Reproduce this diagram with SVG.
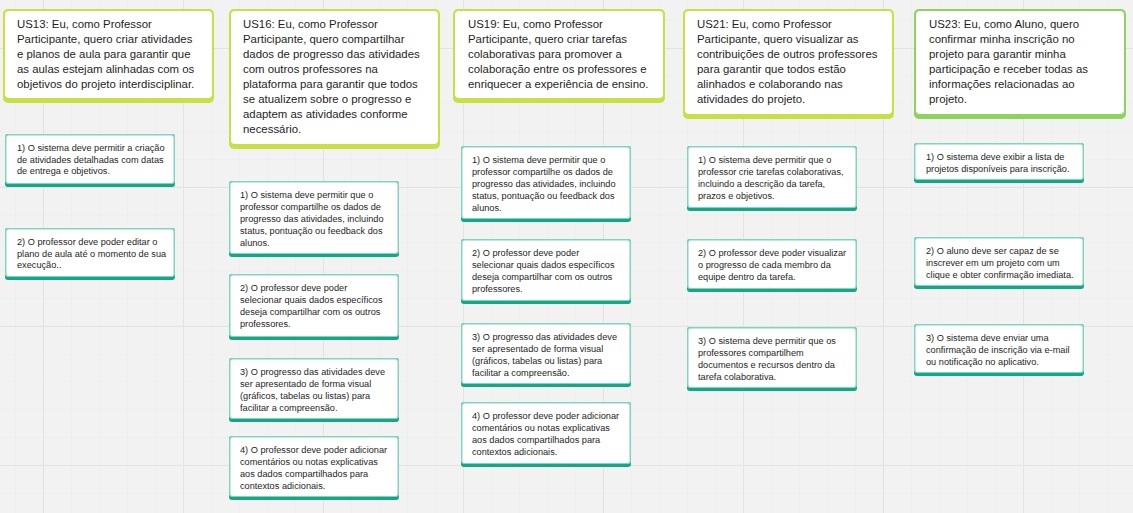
<svg xmlns="http://www.w3.org/2000/svg" width="1133" height="513" viewBox="0 0 1133 513">
<defs>
<pattern id="minor" x="15" y="20" width="28" height="27.8" patternUnits="userSpaceOnUse">
<path d="M0 0H28M0 0V27.8" fill="none" stroke="#ebebeb" stroke-width="1"/>
</pattern>
<pattern id="major" x="43" y="48" width="140" height="139" patternUnits="userSpaceOnUse">
<path d="M0 0.5H140M0.5 0V139" fill="none" stroke="#e3e3e3" stroke-width="1.2"/>
</pattern>
</defs>
<style>
.us-b{fill:#c9df45}
.us23-b{fill:#8fd35f}
.card{fill:#ffffff}
.d-b{fill:#12a785}
.d-t{fill:#7fd5c1}
.ust{font-family:"Liberation Sans",Arial,sans-serif;font-size:11.4px;fill:#1e1e1e}
.dt{font-family:"Liberation Sans",Arial,sans-serif;font-size:9.2px;fill:#1e1e1e}
</style>
<rect width="1133" height="513" fill="#f2f2f2"/>
<rect width="1133" height="513" fill="url(#minor)"/>
<rect width="1133" height="513" fill="url(#major)"/>

<g id="connectors"/>

<!-- User story cards -->
<g id="US13">
<rect class="us-b" x="3" y="9" width="211" height="94" rx="5"/>
<rect class="card" x="5" y="11" width="207" height="87" rx="4"/>
<text class="ust" x="17" y="28">
<tspan x="17" y="28">US13: Eu, como Professor</tspan>
<tspan x="17" y="43">Participante, quero criar atividades</tspan>
<tspan x="17" y="58">e planos de aula para garantir que</tspan>
<tspan x="17" y="73">as aulas estejam alinhadas com os</tspan>
<tspan x="17" y="88">objetivos do projeto interdisciplinar.</tspan>
</text>
</g>

<g id="US16">
<rect class="us-b" x="229" y="9" width="211" height="140" rx="5"/>
<rect class="card" x="231" y="11" width="207" height="133" rx="4"/>
<text class="ust">
<tspan x="243" y="28">US16: Eu, como Professor</tspan>
<tspan x="243" y="43">Participante, quero compartilhar</tspan>
<tspan x="243" y="58">dados de progresso das atividades</tspan>
<tspan x="243" y="73">com outros professores na</tspan>
<tspan x="243" y="88">plataforma para garantir que todos</tspan>
<tspan x="243" y="103">se atualizem sobre o progresso e</tspan>
<tspan x="243" y="118">adaptem as atividades conforme</tspan>
<tspan x="243" y="133">necessário.</tspan>
</text>
</g>

<g id="US19">
<rect class="us-b" x="453" y="9" width="212" height="94" rx="5"/>
<rect class="card" x="455" y="11" width="208" height="87" rx="4"/>
<text class="ust">
<tspan x="468" y="28">US19: Eu, como Professor</tspan>
<tspan x="468" y="43">Participante, quero criar tarefas</tspan>
<tspan x="468" y="58">colaborativas para promover a</tspan>
<tspan x="468" y="73">colaboração entre os professores e</tspan>
<tspan x="468" y="88">enriquecer a experiência de ensino.</tspan>
</text>
</g>

<g id="US21">
<rect class="us-b" x="683" y="9" width="211" height="110" rx="5"/>
<rect class="card" x="685" y="11" width="207" height="103" rx="4"/>
<text class="ust">
<tspan x="697" y="28">US21: Eu, como Professor</tspan>
<tspan x="697" y="43">Participante, quero visualizar as</tspan>
<tspan x="697" y="58">contribuições de outros professores</tspan>
<tspan x="697" y="73">para garantir que todos estão</tspan>
<tspan x="697" y="88">alinhados e colaborando nas</tspan>
<tspan x="697" y="103">atividades do projeto.</tspan>
</text>
</g>

<g id="US23">
<rect class="us23-b" x="914" y="9" width="212" height="110" rx="5"/>
<rect class="card" x="916" y="11" width="208" height="103" rx="4"/>
<text class="ust">
<tspan x="929" y="28">US23: Eu, como Aluno, quero</tspan>
<tspan x="929" y="43">confirmar minha inscrição no</tspan>
<tspan x="929" y="58">projeto para garantir minha</tspan>
<tspan x="929" y="73">participação e receber todas as</tspan>
<tspan x="929" y="88">informações relacionadas ao</tspan>
<tspan x="929" y="103">projeto.</tspan>
</text>
</g>

<!-- Requirement cards: column US13 -->
<g id="US13-R1">
<rect class="d-b" x="5" y="134" width="170" height="53" rx="3"/>
<rect class="d-t" x="5" y="134" width="170" height="50" rx="3"/>
<rect class="card" x="6.5" y="135.5" width="167" height="47.5" rx="2"/>
<text class="dt">
<tspan x="17" y="151">1) O sistema deve permitir a criação</tspan>
<tspan x="17" y="162.5">de atividades detalhadas com datas</tspan>
<tspan x="17" y="174">de entrega e objetivos.</tspan>
</text>
</g>
<g id="US13-R2">
<rect class="d-b" x="5" y="228" width="170" height="52" rx="3"/>
<rect class="d-t" x="5" y="228" width="170" height="49" rx="3"/>
<rect class="card" x="6.5" y="229.5" width="167" height="46.5" rx="2"/>
<text class="dt">
<tspan x="17" y="245">2) O professor deve poder editar o</tspan>
<tspan x="17" y="256.5">plano de aula até o momento de sua</tspan>
<tspan x="17" y="268">execução..</tspan>
</text>
</g>

<!-- column US16 -->
<g id="US16-R1">
<rect class="d-b" x="229" y="181" width="170" height="76" rx="3"/>
<rect class="d-t" x="229" y="181" width="170" height="73" rx="3"/>
<rect class="card" x="230.5" y="182.5" width="167" height="70.5" rx="2"/>
<text class="dt">
<tspan x="240" y="197.5">1) O sistema deve permitir que o</tspan>
<tspan x="240" y="209.5">professor compartilhe os dados de</tspan>
<tspan x="240" y="221.5">progresso das atividades, incluindo</tspan>
<tspan x="240" y="233.5">status, pontuação ou feedback dos</tspan>
<tspan x="240" y="245.5">alunos.</tspan>
</text>
</g>
<g id="US16-R2">
<rect class="d-b" x="229" y="274" width="170" height="66" rx="3"/>
<rect class="d-t" x="229" y="274" width="170" height="63" rx="3"/>
<rect class="card" x="230.5" y="275.5" width="167" height="60.5" rx="2"/>
<text class="dt">
<tspan x="240" y="290.5">2) O professor deve poder</tspan>
<tspan x="240" y="302.5">selecionar quais dados específicos</tspan>
<tspan x="240" y="314.5">deseja compartilhar com os outros</tspan>
<tspan x="240" y="326.5">professores.</tspan>
</text>
</g>
<g id="US16-R3">
<rect class="d-b" x="229" y="358" width="170" height="64" rx="3"/>
<rect class="d-t" x="229" y="358" width="170" height="61" rx="3"/>
<rect class="card" x="230.5" y="359.5" width="167" height="58.5" rx="2"/>
<text class="dt">
<tspan x="240" y="374.5">3) O progresso das atividades deve</tspan>
<tspan x="240" y="386.5">ser apresentado de forma visual</tspan>
<tspan x="240" y="398.5">(gráficos, tabelas ou listas) para</tspan>
<tspan x="240" y="410.5">facilitar a compreensão.</tspan>
</text>
</g>
<g id="US16-R4">
<rect class="d-b" x="229" y="436" width="170" height="64" rx="3"/>
<rect class="d-t" x="229" y="436" width="170" height="61" rx="3"/>
<rect class="card" x="230.5" y="437.5" width="167" height="58.5" rx="2"/>
<text class="dt">
<tspan x="240" y="452.5">4)  O professor deve poder adicionar</tspan>
<tspan x="240" y="464.5">comentários ou notas explicativas</tspan>
<tspan x="240" y="476.5">aos dados compartilhados para</tspan>
<tspan x="240" y="488.5">contextos adicionais.</tspan>
</text>
</g>

<!-- column US19 -->
<g id="US19-R1">
<rect class="d-b" x="461" y="146" width="170" height="76" rx="3"/>
<rect class="d-t" x="461" y="146" width="170" height="73" rx="3"/>
<rect class="card" x="462.5" y="147.5" width="167" height="70.5" rx="2"/>
<text class="dt">
<tspan x="472" y="162.5">1) O sistema deve permitir que o</tspan>
<tspan x="472" y="174.5">professor compartilhe os dados de</tspan>
<tspan x="472" y="186.5">progresso das atividades, incluindo</tspan>
<tspan x="472" y="198.5">status, pontuação ou feedback dos</tspan>
<tspan x="472" y="210.5">alunos.</tspan>
</text>
</g>
<g id="US19-R2">
<rect class="d-b" x="461" y="239" width="170" height="65" rx="3"/>
<rect class="d-t" x="461" y="239" width="170" height="62" rx="3"/>
<rect class="card" x="462.5" y="240.5" width="167" height="59.5" rx="2"/>
<text class="dt">
<tspan x="472" y="255.5">2) O professor deve poder</tspan>
<tspan x="472" y="267.5">selecionar quais dados específicos</tspan>
<tspan x="472" y="279.5">deseja compartilhar com os outros</tspan>
<tspan x="472" y="291.5">professores.</tspan>
</text>
</g>
<g id="US19-R3">
<rect class="d-b" x="461" y="323" width="170" height="64" rx="3"/>
<rect class="d-t" x="461" y="323" width="170" height="61" rx="3"/>
<rect class="card" x="462.5" y="324.5" width="167" height="58.5" rx="2"/>
<text class="dt">
<tspan x="472" y="339.5">3) O progresso das atividades deve</tspan>
<tspan x="472" y="351.5">ser apresentado de forma visual</tspan>
<tspan x="472" y="363.5">(gráficos, tabelas ou listas) para</tspan>
<tspan x="472" y="375.5">facilitar a compreensão.</tspan>
</text>
</g>
<g id="US19-R4">
<rect class="d-b" x="461" y="402" width="170" height="65" rx="3"/>
<rect class="d-t" x="461" y="402" width="170" height="62" rx="3"/>
<rect class="card" x="462.5" y="403.5" width="167" height="59.5" rx="2"/>
<text class="dt">
<tspan x="472" y="418.5">4)  O professor deve poder adicionar</tspan>
<tspan x="472" y="430.5">comentários ou notas explicativas</tspan>
<tspan x="472" y="442.5">aos dados compartilhados para</tspan>
<tspan x="472" y="454.5">contextos adicionais.</tspan>
</text>
</g>

<!-- column US21 -->
<g id="US21-R1">
<rect class="d-b" x="687" y="146" width="170" height="65" rx="3"/>
<rect class="d-t" x="687" y="146" width="170" height="62" rx="3"/>
<rect class="card" x="688.5" y="147.5" width="167" height="59.5" rx="2"/>
<text class="dt">
<tspan x="698" y="162.5">1) O sistema deve permitir que o</tspan>
<tspan x="698" y="174.5">professor crie tarefas colaborativas,</tspan>
<tspan x="698" y="186.5">incluindo a descrição da tarefa,</tspan>
<tspan x="698" y="198.5">prazos e objetivos.</tspan>
</text>
</g>
<g id="US21-R2">
<rect class="d-b" x="687" y="239" width="170" height="53" rx="3"/>
<rect class="d-t" x="687" y="239" width="170" height="50" rx="3"/>
<rect class="card" x="688.5" y="240.5" width="167" height="47.5" rx="2"/>
<text class="dt">
<tspan x="698" y="255.5">2) O professor deve poder visualizar</tspan>
<tspan x="698" y="267.5">o progresso de cada membro da</tspan>
<tspan x="698" y="279.5">equipe dentro da tarefa.</tspan>
</text>
</g>
<g id="US21-R3">
<rect class="d-b" x="687" y="327" width="170" height="64" rx="3"/>
<rect class="d-t" x="687" y="327" width="170" height="61" rx="3"/>
<rect class="card" x="688.5" y="328.5" width="167" height="58.5" rx="2"/>
<text class="dt">
<tspan x="698" y="343.5">3) O sistema deve permitir que os</tspan>
<tspan x="698" y="355.5">professores compartilhem</tspan>
<tspan x="698" y="367.5">documentos e recursos dentro da</tspan>
<tspan x="698" y="379.5">tarefa colaborativa.</tspan>
</text>
</g>

<!-- column US23 -->
<g id="US23-R1">
<rect class="d-b" x="914" y="143" width="170" height="40" rx="3"/>
<rect class="d-t" x="914" y="143" width="170" height="37" rx="3"/>
<rect class="card" x="915.5" y="144.5" width="167" height="34.5" rx="2"/>
<text class="dt">
<tspan x="926" y="159.5">1) O sistema deve exibir a lista de</tspan>
<tspan x="926" y="171.5">projetos disponíveis para inscrição.</tspan>
</text>
</g>
<g id="US23-R2">
<rect class="d-b" x="914" y="237" width="170" height="52" rx="3"/>
<rect class="d-t" x="914" y="237" width="170" height="49" rx="3"/>
<rect class="card" x="915.5" y="238.5" width="167" height="46.5" rx="2"/>
<text class="dt">
<tspan x="926" y="253.5">2) O aluno deve ser capaz de se</tspan>
<tspan x="926" y="265.5">inscrever em um projeto com um</tspan>
<tspan x="926" y="277.5">clique e obter confirmação imediata.</tspan>
</text>
</g>
<g id="US23-R3">
<rect class="d-b" x="914" y="324" width="170" height="52" rx="3"/>
<rect class="d-t" x="914" y="324" width="170" height="49" rx="3"/>
<rect class="card" x="915.5" y="325.5" width="167" height="46.5" rx="2"/>
<text class="dt">
<tspan x="926" y="340.5">3) O sistema deve enviar uma</tspan>
<tspan x="926" y="352.5">confirmação de inscrição via e-mail</tspan>
<tspan x="926" y="364.5">ou notificação no aplicativo.</tspan>
</text>
</g>
</svg>
